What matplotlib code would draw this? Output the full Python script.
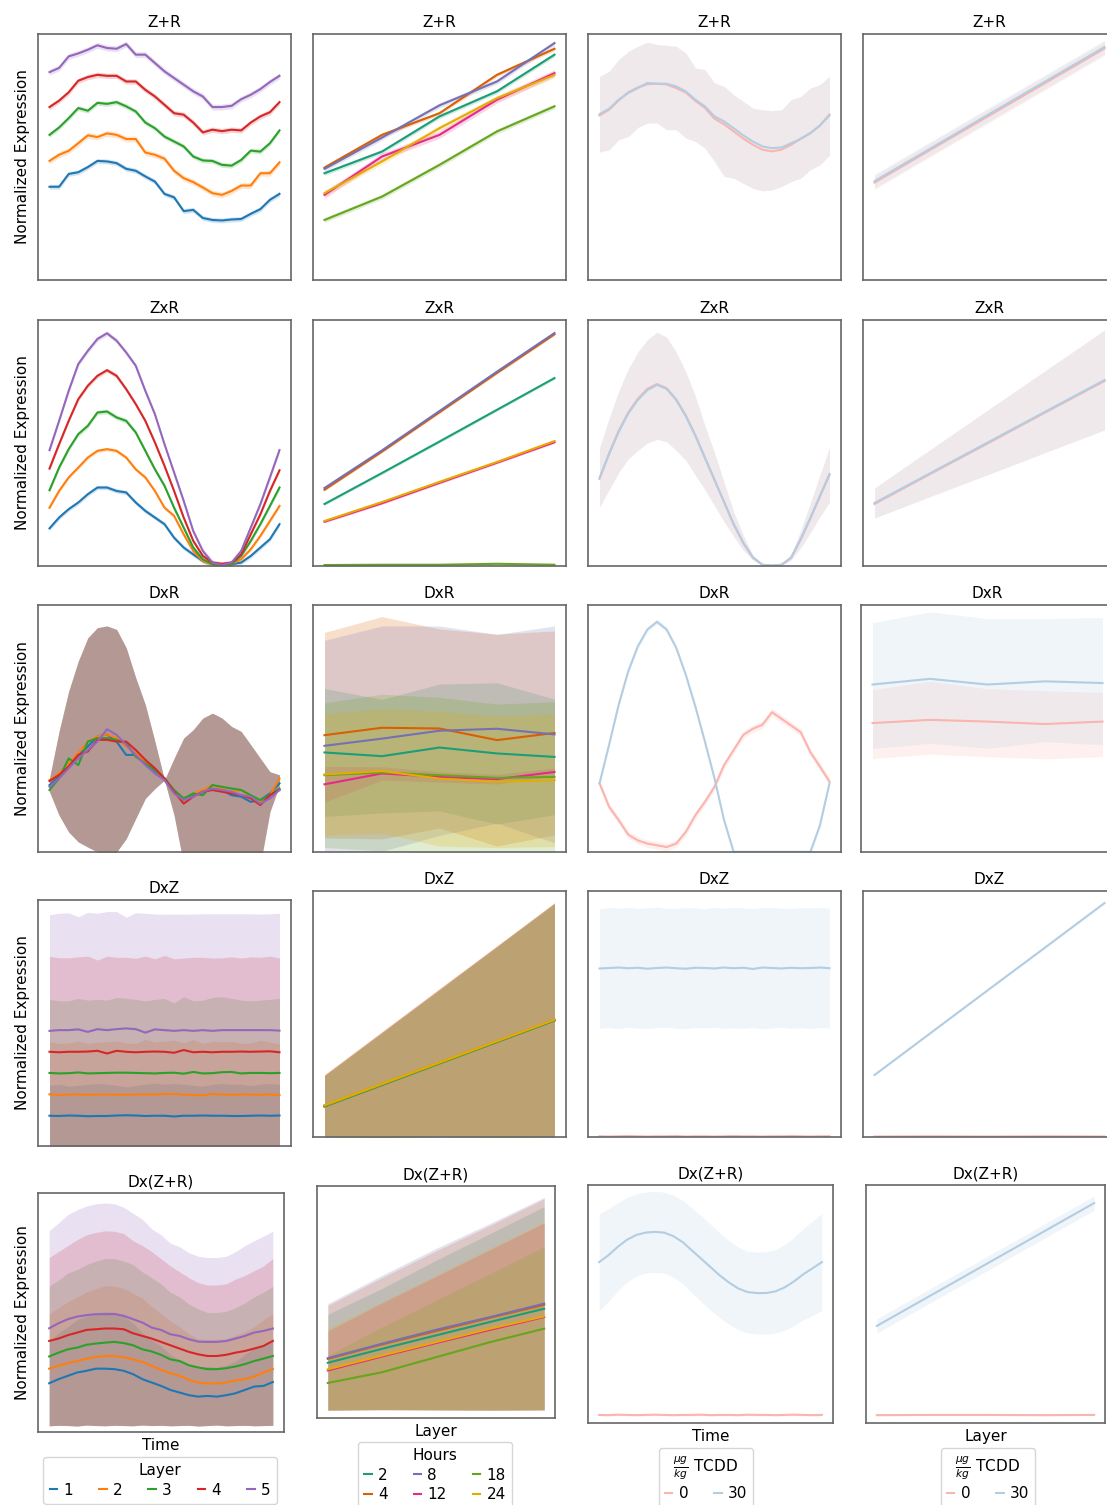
import matplotlib.pyplot as plt
import numpy as np
from matplotlib.lines import Line2D

# ---------------------------------------------------------------- data
TIME = list(range(25))
LAYERS = [1, 2, 3, 4, 5]
LAYER_NAMES = ["1", "2", "3", "4", "5"]
HOURS = ["2", "4", "8", "12", "18", "24"]
DOSES = ["0", "30"]
ROW_TITLES = ["Z+R", "ZxR", "DxR", "DxZ", "Dx(Z+R)"]

# --- Z+R
zr_time_mean = [
    [37.9, 37.9, 43.1, 43.8, 45.9, 48.4, 48.2, 47.5, 45.2, 44.4, 42.1, 40.0, 35.0, 33.6, 28.0, 28.5, 25.2, 24.4, 24.2, 24.6, 24.8, 26.9, 28.8, 32.6, 35.0],
    [48.4, 50.9, 52.5, 55.6, 58.8, 58.1, 59.6, 59.0, 57.3, 57.3, 51.8, 50.9, 49.3, 44.4, 41.4, 39.8, 37.6, 35.3, 34.6, 36.2, 38.4, 38.4, 43.4, 43.4, 47.8],
    [59.0, 62.0, 65.8, 69.9, 68.8, 72.0, 71.6, 72.3, 70.6, 68.5, 64.0, 61.7, 58.3, 56.3, 54.3, 50.2, 48.6, 48.4, 46.8, 46.5, 48.8, 52.6, 52.2, 55.6, 60.8],
    [70.3, 72.9, 76.3, 81.0, 82.5, 83.4, 83.0, 83.0, 80.7, 80.7, 77.3, 74.6, 71.2, 67.8, 67.2, 64.0, 60.0, 61.1, 60.5, 61.1, 60.8, 64.0, 66.5, 68.2, 72.3],
    [84.5, 86.2, 90.9, 92.1, 93.6, 95.4, 94.3, 94.0, 95.9, 91.6, 91.6, 88.2, 84.8, 82.1, 79.4, 76.7, 74.6, 70.3, 70.3, 70.8, 73.5, 75.3, 77.6, 80.5, 83.0],
]
zr_time_sd = [1.0, 1.2, 1.0, 1.1, 1.2]

zr_layer_mean = [
    [43.4, 52.2, 66.5, 76.7, 91.6],
    [45.7, 59.0, 67.8, 83.4, 94.0],
    [45.2, 57.9, 71.0, 80.7, 96.3],
    [34.6, 50.2, 59.0, 73.3, 84.1],
    [24.4, 33.9, 46.8, 60.4, 70.6],
    [35.3, 48.2, 61.7, 73.9, 83.4],
]
zr_layer_sd = [0.9, 0.8, 1.0, 1.4, 1.0, 1.2]

zr_dose_time_mean = [
    [66.9, 69.2, 73.0, 76.3, 78.3, 79.6, 79.8, 79.5, 78.0, 76.2, 72.8, 70.0, 65.6, 63.3, 60.4, 57.5, 55.0, 53.0, 52.3, 53.0, 55.0, 57.4, 59.7, 62.8, 67.3],
    [67.4, 69.6, 73.3, 76.0, 78.0, 80.1, 79.8, 79.8, 78.7, 76.7, 73.3, 70.6, 66.5, 64.5, 61.7, 58.8, 56.3, 54.3, 53.6, 53.9, 55.6, 57.4, 59.7, 62.8, 66.9],
]
zr_dose_time_hi = [82.8, 84.8, 89.6, 92.9, 95.0, 96.7, 95.7, 95.4, 95.0, 92.3, 86.2, 85.5, 80.1, 78.7, 75.3, 72.6, 69.9, 69.2, 68.8, 69.2, 73.3, 74.6, 78.0, 79.4, 82.8]
zr_dose_time_lo = [52.0, 52.9, 57.0, 58.3, 62.0, 63.8, 63.8, 61.1, 61.1, 57.7, 56.3, 53.6, 48.2, 42.1, 41.4, 39.3, 37.3, 36.2, 36.6, 38.0, 40.0, 41.4, 44.8, 46.8, 50.6]

zr_dose_layer_mean = [
    [39.6, 53.3, 66.9, 80.5, 94.1],
    [40.2, 53.8, 67.5, 81.1, 94.7],
]
zr_dose_layer_sd = [2.8, 2.8]

# --- ZxR
zxr_time_mean = [
    [15.3, 19.7, 23.1, 25.8, 29.2, 31.9, 31.9, 30.5, 29.9, 25.8, 22.4, 19.7, 17.0, 11.5, 7.5, 4.7, 2.0, 0.7, 0.4, 0.7, 1.4, 4.1, 7.5, 10.9, 17.0],
    [23.7, 30.5, 36.0, 40.0, 44.1, 46.8, 47.5, 46.8, 44.1, 39.3, 36.0, 30.5, 23.7, 20.4, 12.9, 6.1, 2.0, 0.7, 0.4, 0.9, 2.7, 6.8, 12.2, 18.3, 24.4],
    [30.8, 40.0, 47.5, 53.6, 57.0, 62.4, 62.8, 60.4, 59.0, 54.3, 46.8, 39.3, 32.6, 23.7, 15.6, 7.5, 2.7, 0.9, 0.4, 0.9, 4.1, 10.2, 17.0, 24.4, 31.9],
    [39.6, 49.5, 59.0, 67.8, 73.3, 77.3, 79.6, 77.3, 71.9, 65.8, 59.0, 50.2, 40.7, 30.5, 19.7, 10.2, 4.1, 1.4, 0.9, 1.4, 4.7, 12.9, 21.0, 30.5, 38.9],
    [47.1, 59.0, 71.2, 82.1, 87.5, 92.3, 94.6, 91.6, 86.8, 81.4, 71.2, 61.7, 49.5, 38.0, 26.5, 14.2, 6.1, 1.4, 0.4, 1.4, 6.1, 15.6, 25.1, 36.0, 47.1],
]
zxr_time_sd = [0.9, 0.8, 1.0, 0.9, 1.0]

zxr_layer_mean = [
    [25.2, 37.8, 50.6, 63.5, 76.4],
    [31.0, 46.5, 62.5, 78.5, 94.2],
    [31.7, 47.0, 63.0, 79.0, 94.7],
    [18.0, 25.5, 33.8, 42.0, 50.3],
    [0.4, 0.5, 0.5, 0.9, 0.5],
    [18.3, 26.0, 34.2, 42.3, 50.8],
]
zxr_layer_sd = [0.6, 0.5, 0.5, 0.5, 0.6, 0.5]

zxr_dose_time_mean = [
    [35.4, 45.8, 54.9, 62.4, 68.0, 72.0, 74.0, 72.3, 67.8, 61.2, 53.1, 44.0, 35.0, 26.0, 17.0, 9.4, 3.4, 0.5, 0.2, 0.5, 3.3, 10.8, 19.3, 28.2, 37.0],
    [35.8, 45.5, 54.5, 62.0, 67.5, 71.5, 73.6, 72.0, 67.5, 61.0, 53.0, 44.0, 35.0, 26.0, 17.0, 9.5, 3.5, 0.5, 0.2, 0.5, 3.5, 11.0, 19.5, 28.5, 37.4],
]
zxr_dose_time_hi = [48.0, 60.0, 71.0, 80.0, 87.0, 92.0, 95.0, 93.0, 87.0, 79.0, 69.0, 57.0, 46.0, 34.0, 22.0, 12.5, 4.5, 0.8, 0.3, 0.8, 4.5, 14.5, 25.5, 37.0, 48.0]
zxr_dose_time_lo = [24.0, 31.0, 38.0, 43.5, 47.0, 50.0, 51.5, 50.5, 47.0, 43.0, 37.0, 31.0, 24.5, 18.0, 12.0, 6.5, 2.5, 0.3, 0.1, 0.3, 2.5, 7.5, 13.5, 20.0, 26.0]

zxr_dose_layer_mean = [
    [25.2, 37.8, 50.2, 62.8, 75.2],
    [25.6, 38.1, 50.6, 63.1, 75.6],
]
zxr_dose_layer_hi = [31.7, 47.8, 63.9, 79.9, 95.9]
zxr_dose_layer_lo = [19.5, 28.5, 37.4, 46.4, 55.3]

# --- DxR
dxr_time_mean = [
    [27.1, 30.5, 34.6, 39.3, 42.7, 46.7, 47.7, 44.7, 39.3, 39.3, 36.6, 32.5, 29.8, 24.4, 21.7, 23.0, 24.4, 25.5, 25.1, 23.0, 22.4, 20.3, 21.0, 23.7, 27.8],
    [29.1, 31.8, 35.9, 40.0, 44.7, 46.7, 47.7, 46.1, 42.7, 40.0, 36.6, 33.2, 29.1, 24.4, 21.7, 23.7, 25.1, 27.1, 25.7, 24.4, 25.1, 22.4, 20.3, 23.0, 29.8],
    [25.1, 29.8, 37.9, 35.2, 44.7, 46.1, 46.1, 45.4, 44.0, 38.6, 35.9, 33.2, 29.8, 25.1, 21.7, 23.7, 23.0, 27.1, 26.4, 25.7, 25.1, 23.0, 21.0, 23.0, 25.7],
    [28.7, 31.2, 34.6, 39.3, 40.7, 45.4, 45.4, 44.7, 44.7, 41.3, 37.3, 33.9, 29.8, 24.4, 19.6, 22.4, 24.4, 25.1, 24.4, 23.7, 23.0, 21.7, 19.0, 23.0, 25.1],
    [26.4, 29.8, 33.9, 37.9, 41.3, 44.7, 49.7, 47.4, 43.4, 39.3, 35.2, 31.8, 29.1, 23.7, 21.0, 22.4, 24.4, 25.7, 25.1, 24.4, 23.0, 22.4, 19.6, 21.7, 25.1],
]
dxr_time_hi = [29.8, 48.8, 65.0, 77.2, 86.7, 90.8, 91.5, 90.1, 82.7, 70.5, 59.6, 44.7, 29.1, 37.9, 46.1, 49.5, 54.2, 56.2, 54.2, 50.8, 48.8, 43.4, 37.9, 32.5, 31.2]
dxr_time_lo = [24.4, 14.9, 8.1, 4.1, 2.0, 0.0, -4.1, 0.0, 5.4, 13.6, 21.7, 25.7, 29.1, 14.9, -5.0, -5.0, -5.0, -5.0, -5.0, -5.0, -5.0, -5.0, -5.0, 16.3, 27.1]

dxr_layer_mean = [
    [40.3, 38.8, 42.3, 39.9, 38.5],
    [47.3, 50.3, 50.0, 45.3, 48.2],
    [43.0, 45.9, 49.1, 49.9, 47.6],
    [27.4, 31.8, 30.4, 29.5, 32.4],
    [31.1, 32.2, 31.1, 30.0, 30.4],
    [31.4, 32.8, 29.7, 28.4, 29.1],
]
dxr_layer_hi = [
    [66.2, 61.8, 68.0, 68.5, 61.9],
    [88.9, 95.3, 90.3, 88.2, 89.5],
    [85.7, 91.5, 91.5, 88.1, 91.5],
    [34.6, 34.5, 32.5, 31.5, 34.0],
    [60.4, 63.9, 62.6, 59.9, 60.8],
    [56.0, 58.0, 57.0, 55.0, 56.0],
]
dxr_layer_lo = [
    [14.4, 15.8, 16.6, 11.3, 15.1],
    [5.7, 5.3, 9.7, 2.4, 6.9],
    [0.3, 0.3, 6.7, 11.7, 3.7],
    [20.2, 29.1, 28.3, 27.5, 30.8],
    [1.8, 0.5, -0.4, 0.1, 0.0],
    [6.8, 7.6, 2.4, 1.8, 2.2],
]

dxr_dose_time_mean = [
    [27.8, 18.3, 12.9, 7.0, 4.7, 3.4, 2.7, 2.0, 3.4, 8.1, 14.9, 20.3, 26.4, 35.2, 41.3, 47.4, 49.9, 51.5, 56.6, 53.9, 51.2, 48.5, 40.4, 34.6, 28.5],
    [27.8, 43.4, 59.6, 73.2, 83.3, 90.1, 93.2, 90.1, 82.7, 71.8, 58.9, 44.7, 29.8, 12.9, 0.0, 0.0, 0.0, 0.0, 0.0, 0.0, 0.0, 0.0, 0.0, 10.8, 27.8],
]
dxr_dose_time_sd = [1.5, 1.0]

dxr_dose_layer_mean = [
    [52.2, 53.5, 52.8, 51.8, 52.8],
    [67.8, 70.1, 67.8, 69.1, 68.4],
]
dxr_dose_layer_hi = [
    [65.7, 69.1, 66.1, 65.3, 64.6],
    [92.8, 97.2, 94.5, 94.5, 94.9],
]
dxr_dose_layer_lo = [
    [37.9, 39.6, 38.6, 37.7, 38.6],
    [42.0, 44.0, 42.0, 44.7, 43.4],
]

# --- DxZ
dxz_time_mean = [
    [12.3, 12.2, 12.4, 12.3, 12.1, 12.2, 12.2, 12.4, 12.5, 12.4, 12.2, 12.3, 12.3, 12.0, 12.3, 12.3, 12.4, 12.3, 12.3, 12.2, 12.2, 12.3, 12.4, 12.3, 12.4],
    [21.0, 20.7, 20.9, 21.0, 20.8, 20.9, 20.9, 20.9, 20.8, 20.9, 21.0, 20.9, 21.1, 21.2, 20.9, 20.7, 20.6, 21.2, 20.9, 20.8, 21.0, 20.9, 20.8, 21.0, 20.7],
    [29.7, 29.5, 29.6, 29.9, 29.5, 29.6, 29.7, 29.8, 29.8, 29.7, 29.6, 29.5, 29.7, 29.8, 29.4, 30.1, 29.5, 29.6, 30.0, 30.1, 29.5, 29.7, 29.7, 29.6, 29.7],
    [38.3, 38.1, 38.3, 38.3, 38.4, 38.7, 37.6, 38.7, 38.3, 38.1, 38.3, 38.4, 38.3, 37.9, 39.0, 38.1, 38.3, 38.1, 38.3, 38.3, 38.4, 38.3, 38.4, 38.5, 38.1],
    [46.8, 47.1, 47.1, 47.4, 46.4, 47.5, 47.1, 47.5, 47.8, 47.5, 46.1, 47.4, 47.1, 46.8, 47.1, 46.8, 47.1, 46.8, 47.1, 47.1, 47.1, 47.1, 47.1, 47.1, 46.9],
]
dxz_time_hi = [
    [24.7, 25.1, 24.3, 24.7, 25.1, 25.4, 25.1, 24.7, 24.0, 24.6, 25.1, 25.6, 25.1, 25.4, 25.1, 24.7, 24.3, 25.1, 25.4, 25.1, 25.1, 24.6, 25.1, 25.4, 25.1],
    [42.3, 41.7, 41.9, 42.6, 41.7, 42.2, 42.3, 42.7, 41.9, 41.7, 43.3, 42.3, 42.6, 43.0, 41.9, 43.3, 41.7, 42.6, 42.3, 42.6, 41.7, 41.9, 43.0, 42.3, 41.4],
    [59.6, 59.0, 59.0, 60.0, 59.3, 59.6, 59.3, 60.4, 60.0, 59.6, 59.0, 59.6, 60.0, 58.2, 60.7, 59.0, 59.3, 60.4, 60.7, 60.0, 59.3, 59.0, 59.3, 59.6, 60.0],
    [77.1, 76.5, 76.5, 76.9, 77.2, 75.6, 77.2, 76.7, 76.7, 76.3, 77.2, 76.1, 77.5, 76.1, 76.4, 76.7, 76.7, 76.4, 76.5, 76.9, 76.4, 76.9, 76.7, 77.2, 76.4],
    [94.0, 94.6, 94.8, 93.2, 95.0, 94.6, 95.3, 95.3, 93.0, 94.8, 94.6, 94.3, 94.2, 94.3, 94.2, 94.3, 94.4, 94.4, 94.4, 94.4, 94.4, 94.4, 94.3, 94.4, 94.6],
]
dxz_time_lo = [-0.4, -0.2, -0.5, -0.3, -0.6, -0.2, -0.4, -0.3, -0.5, -0.2, -0.4, -0.6, -0.3, -0.2, -0.4, -0.5, -0.3, -0.2, -0.4, -0.3, -0.5, -0.4, -0.2, -0.3, -0.4]

dxz_layer_mean = [
    [12.4, 21.1, 29.9, 38.6, 47.3],
    [12.8, 21.5, 30.2, 38.9, 47.6],
    [12.5, 21.2, 30.0, 38.7, 47.5],
    [12.6, 21.3, 30.1, 38.8, 47.5],
    [12.5, 21.2, 29.9, 38.7, 47.4],
    [12.9, 21.6, 30.3, 39.0, 47.7],
]
dxz_layer_hi = [
    [24.8, 42.3, 59.8, 77.3, 94.7],
    [25.4, 42.9, 60.4, 77.8, 95.2],
    [25.0, 42.5, 60.0, 77.5, 95.3],
    [25.2, 42.7, 60.2, 77.6, 95.0],
    [25.0, 42.4, 59.8, 77.4, 94.8],
    [25.2, 42.7, 60.2, 77.6, 95.1],
]
dxz_layer_lo = [0.0, -0.2, 0.1, -0.1, 0.0]

dxz_dose_time_mean = [
    [0.3, 0.2, 0.3, 0.4, 0.3, 0.2, 0.3, 0.3, 0.4, 0.2, 0.3, 0.3, 0.2, 0.3, 0.4, 0.3, 0.3, 0.2, 0.3, 0.3, 0.4, 0.3, 0.2, 0.3, 0.3],
    [68.5, 68.7, 68.9, 68.6, 68.8, 68.4, 68.7, 68.9, 68.6, 68.4, 68.8, 68.7, 68.5, 68.9, 68.6, 68.8, 68.3, 68.9, 68.7, 68.5, 68.8, 68.6, 68.7, 68.9, 68.6],
]
dxz_dose_time_hi = [92.8, 93.3, 93.0, 93.4, 92.9, 93.2, 93.5, 93.0, 92.9, 93.2, 93.1, 92.7, 93.3, 93.0, 93.4, 93.1, 92.8, 93.2, 93.3, 93.0, 92.9, 93.2, 93.1, 93.3, 93.0]
dxz_dose_time_lo = [44.2, 44.5, 44.0, 44.6, 44.3, 44.1, 44.4, 44.7, 44.2, 44.0, 44.5, 44.3, 44.6, 44.1, 44.4, 44.2, 44.5, 44.0, 44.3, 44.6, 44.2, 44.4, 44.1, 44.5, 44.3]

dxz_dose_layer_mean = [
    [0.2, 0.3, 0.2, 0.3, 0.2],
    [25.2, 42.7, 60.2, 77.6, 95.1],
]
dxz_dose_layer_sd = [0.3, 0.3]

# --- Dx(Z+R)
dzr_time_mean = [
    [20.4, 22.1, 23.5, 24.9, 25.6, 26.5, 26.5, 26.3, 25.6, 24.2, 22.1, 20.7, 19.3, 17.6, 16.5, 15.4, 14.8, 15.1, 14.8, 15.4, 16.2, 17.6, 19.0, 19.3, 20.9],
    [26.5, 27.7, 28.8, 29.7, 30.7, 31.4, 31.8, 31.8, 31.3, 30.4, 29.3, 27.7, 26.0, 24.6, 23.5, 21.8, 20.7, 20.3, 20.3, 20.7, 21.6, 22.1, 23.2, 24.9, 26.3],
    [31.6, 33.2, 34.6, 35.3, 36.5, 37.0, 37.4, 37.7, 37.2, 36.3, 34.6, 33.7, 32.3, 30.4, 29.7, 27.9, 27.0, 26.3, 26.3, 26.7, 27.4, 28.4, 29.7, 30.7, 31.8],
    [38.1, 39.1, 40.5, 41.6, 42.7, 43.0, 43.3, 43.3, 43.0, 41.3, 40.2, 39.1, 37.7, 36.3, 34.9, 33.5, 32.5, 31.8, 31.8, 32.3, 33.2, 33.9, 34.9, 36.0, 38.1],
    [43.4, 45.5, 47.2, 48.3, 48.9, 49.3, 49.3, 49.4, 48.6, 47.2, 45.8, 43.7, 42.7, 40.9, 40.2, 38.8, 37.8, 37.7, 37.7, 38.1, 39.1, 40.2, 41.6, 42.3, 43.3],
]
dzr_time_hi = [
    [38.0, 41.5, 44.0, 47.0, 48.5, 50.0, 50.3, 50.0, 48.5, 45.5, 41.5, 38.5, 36.0, 32.5, 30.0, 28.0, 27.0, 27.5, 27.0, 28.0, 29.5, 32.5, 35.0, 36.0, 39.0],
    [49.3, 52.0, 54.5, 56.5, 58.5, 60.0, 61.2, 61.0, 60.0, 58.0, 56.0, 52.5, 49.5, 46.5, 44.0, 41.0, 39.0, 38.8, 38.8, 39.0, 40.5, 42.0, 44.0, 47.0, 49.3],
    [61.2, 63.5, 66.5, 68.0, 70.0, 71.5, 72.6, 72.5, 71.5, 70.0, 67.0, 64.5, 62.0, 58.5, 56.5, 53.5, 51.5, 50.0, 50.0, 50.5, 52.0, 54.0, 56.5, 58.5, 60.9],
    [73.0, 75.5, 78.0, 80.5, 82.5, 83.5, 84.2, 84.0, 83.0, 80.0, 78.0, 75.5, 72.5, 69.5, 67.0, 64.5, 62.5, 61.5, 61.5, 62.0, 64.0, 65.5, 67.5, 69.5, 72.6],
    [84.2, 87.5, 91.0, 93.0, 94.5, 95.5, 95.8, 95.5, 94.0, 91.5, 89.0, 85.0, 82.5, 79.0, 77.5, 75.0, 73.5, 73.0, 73.0, 73.5, 75.5, 78.0, 80.0, 82.0, 84.0],
]
dzr_time_lo = [2.6, 2.8, 2.7, 2.5, 2.9, 2.7, 2.6, 2.8, 2.7, 2.6, 2.9, 2.7, 2.8, 2.6, 2.7, 2.8, 2.5, 2.7, 2.9, 2.6, 2.7, 2.8, 2.6, 2.7, 2.8]

dzr_layer_mean = [
    [23.8, 29.8, 35.6, 41.4, 47.1],
    [25.5, 31.7, 37.5, 43.2, 48.8],
    [25.8, 32.0, 38.0, 43.5, 49.3],
    [20.5, 26.5, 32.3, 38.0, 43.5],
    [15.1, 19.7, 26.2, 32.7, 38.5],
    [21.0, 26.9, 32.7, 38.5, 43.8],
]
dzr_layer_hi = [
    [44.7, 55.8, 68.0, 79.5, 91.1],
    [48.5, 60.5, 72.0, 83.0, 94.5],
    [49.3, 61.5, 73.1, 83.9, 95.1],
    [37.5, 49.5, 61.0, 72.5, 84.0],
    [26.9, 39.2, 50.7, 62.2, 73.8],
    [38.5, 50.0, 61.5, 73.1, 84.6],
]
dzr_layer_lo = [3.4, 3.6, 3.5, 3.4, 3.5]

dzr_dose_time_mean = [
    [3.4, 3.3, 3.5, 3.4, 3.3, 3.4, 3.5, 3.4, 3.3, 3.4, 3.4, 3.5, 3.3, 3.4, 3.4, 3.3, 3.5, 3.4, 3.4, 3.3, 3.4, 3.5, 3.4, 3.3, 3.4],
    [67.6, 70.5, 74.0, 77.0, 79.0, 80.0, 80.3, 80.0, 78.5, 76.0, 72.5, 69.0, 65.5, 62.0, 59.0, 56.5, 55.0, 54.6, 54.6, 55.3, 57.0, 59.5, 62.5, 65.0, 67.6],
]
dzr_dose_time_hi = [88.0, 90.0, 92.5, 94.8, 96.3, 97.0, 97.3, 97.0, 95.7, 93.5, 90.3, 87.0, 83.5, 79.8, 76.5, 73.8, 72.2, 71.8, 71.9, 72.8, 75.0, 78.0, 81.7, 84.8, 88.0]
dzr_dose_time_lo = [47.2, 51.0, 55.5, 59.2, 61.7, 63.0, 63.3, 63.0, 61.3, 58.5, 54.7, 51.0, 47.5, 44.2, 41.5, 39.2, 37.8, 37.4, 37.3, 37.8, 39.0, 41.0, 43.3, 45.2, 47.2]

dzr_dose_layer_mean = [
    [3.3, 3.4, 3.4, 3.3, 3.4],
    [40.8, 53.7, 66.6, 79.5, 92.4],
]
dzr_dose_layer_sd = [0.3, 3.0]

# ---------------------------------------------------------------- style
LAYER_COLORS = plt.get_cmap("tab10").colors[:5]
HOUR_COLORS = plt.get_cmap("Dark2").colors[:6]
DOSE_COLORS = plt.get_cmap("Pastel1").colors[:2]

W, H = 1107, 1505
FS = 11

plt.rcParams["font.family"] = ["DejaVu Sans"]

fig = plt.figure(figsize=(W / 100, H / 100), dpi=100)


def add_box(x0, y0, x1, y1):
    # pixel box -> figure fraction
    return fig.add_axes([x0 / W, 1 - y1 / H, (x1 - x0) / W, (y1 - y0) / H])


def draw(ax, x, means, colors, bands):
    """bands[i] is an sd (number) or a (lo, hi) pair."""
    for m, c, b in zip(means, colors, bands):
        m = np.asarray(m, float)
        if np.isscalar(b):
            lo, hi = m - b, m + b
        else:
            lo, hi = np.asarray(b[0], float), np.asarray(b[1], float)
        ax.fill_between(x, lo, hi, color=c, alpha=0.2, linewidth=0)
    for m, c in zip(means, colors):
        ax.plot(x, m, color=c, lw=1.5)
    ax.set_ylim(0, 100)
    ax.set_xlim(x[0] - 0.05 * (x[-1] - x[0]), x[-1] + 0.05 * (x[-1] - x[0]))
    ax.set_xticks([])
    ax.set_yticks([])
    for s in ax.spines.values():
        s.set_color("0.4")
        s.set_linewidth(1.2)


# axes boxes in pixels (x0, y0, x1, y1)
boxes = [
    [(38, 34, 291, 280), (313, 34, 566, 280), (588, 34, 841, 280), (863, 34, 1116, 280)],
    [(38, 320, 291, 566), (313, 320, 566, 566), (588, 320, 841, 566), (863, 320, 1116, 566)],
    [(38, 605, 291, 852), (313, 605, 566, 852), (588, 605, 841, 852), (861, 605, 1114, 852)],
    [(38, 900, 291, 1146), (313, 891, 566, 1137), (588, 891, 841, 1137), (863, 891, 1116, 1137)],
    [(38, 1193, 284, 1432), (317, 1186, 555, 1418), (588, 1185, 833, 1423), (866, 1185, 1105, 1423)],
]

panels = [
    [
        (TIME, zr_time_mean, LAYER_COLORS, zr_time_sd),
        (LAYERS, zr_layer_mean, HOUR_COLORS, zr_layer_sd),
        (TIME, zr_dose_time_mean, DOSE_COLORS, [(zr_dose_time_lo, zr_dose_time_hi)] * 2),
        (LAYERS, zr_dose_layer_mean, DOSE_COLORS, zr_dose_layer_sd),
    ],
    [
        (TIME, zxr_time_mean, LAYER_COLORS, zxr_time_sd),
        (LAYERS, zxr_layer_mean, HOUR_COLORS, zxr_layer_sd),
        (TIME, zxr_dose_time_mean, DOSE_COLORS, [(zxr_dose_time_lo, zxr_dose_time_hi)] * 2),
        (LAYERS, zxr_dose_layer_mean, DOSE_COLORS, [(zxr_dose_layer_lo, zxr_dose_layer_hi)] * 2),
    ],
    [
        (TIME, dxr_time_mean, LAYER_COLORS, [(dxr_time_lo, dxr_time_hi)] * 5),
        (LAYERS, dxr_layer_mean, HOUR_COLORS, list(zip(dxr_layer_lo, dxr_layer_hi))),
        (TIME, dxr_dose_time_mean, DOSE_COLORS, dxr_dose_time_sd),
        (LAYERS, dxr_dose_layer_mean, DOSE_COLORS, list(zip(dxr_dose_layer_lo, dxr_dose_layer_hi))),
    ],
    [
        (TIME, dxz_time_mean, LAYER_COLORS, [(dxz_time_lo, h) for h in dxz_time_hi]),
        (LAYERS, dxz_layer_mean, HOUR_COLORS, [(dxz_layer_lo, h) for h in dxz_layer_hi]),
        (TIME, dxz_dose_time_mean, DOSE_COLORS, [0.3, (dxz_dose_time_lo, dxz_dose_time_hi)]),
        (LAYERS, dxz_dose_layer_mean, DOSE_COLORS, dxz_dose_layer_sd),
    ],
    [
        (TIME, dzr_time_mean, LAYER_COLORS, [(dzr_time_lo, h) for h in dzr_time_hi]),
        (LAYERS, dzr_layer_mean, HOUR_COLORS, [(dzr_layer_lo, h) for h in dzr_layer_hi]),
        (TIME, dzr_dose_time_mean, DOSE_COLORS, [0.4, (dzr_dose_time_lo, dzr_dose_time_hi)]),
        (LAYERS, dzr_dose_layer_mean, DOSE_COLORS, dzr_dose_layer_sd),
    ],
]

axes = []
for r in range(5):
    row = []
    for c in range(4):
        ax = add_box(*boxes[r][c])
        x, means, colors, bands = panels[r][c]
        draw(ax, x, means, colors, bands)
        ax.set_title(ROW_TITLES[r], fontsize=FS, pad=5)
        if c == 0:
            ax.set_ylabel("Normalized Expression", fontsize=FS, labelpad=6)
        row.append(ax)
    axes.append(row)

# bottom row labels and legends
xlabels = ["Time", "Layer", "Time", "Layer"]
for c in range(4):
    axes[4][c].set_xlabel(xlabels[c], fontsize=FS, labelpad=4)


def short_handles(colors):
    return [Line2D([], [], color=col, lw=1.5) for col in colors]


legend_specs = [
    (LAYER_COLORS, LAYER_NAMES, "Layer", 5, 160, 1457),
    (HOUR_COLORS, HOURS, "Hours", 3, 435, 1442),
    (DOSE_COLORS, DOSES, r"$\frac{\mu g}{kg}$ TCDD", 2, 706, 1448),
    (DOSE_COLORS, DOSES, r"$\frac{\mu g}{kg}$ TCDD", 2, 988, 1448),
]
for c, (cols, labels, title, ncol, cx, top) in enumerate(legend_specs):
    axes[4][c].legend(
        short_handles(cols), labels, title=title, ncol=ncol,
        loc="upper center", bbox_to_anchor=(cx / W, 1 - top / H),
        bbox_transform=fig.transFigure, fontsize=FS, title_fontsize=FS,
        handlelength=0.5, handletextpad=0.4, columnspacing=1.7,
        labelspacing=0.3, borderaxespad=0, frameon=True,
    )

fig.savefig("out.png", dpi=100)
